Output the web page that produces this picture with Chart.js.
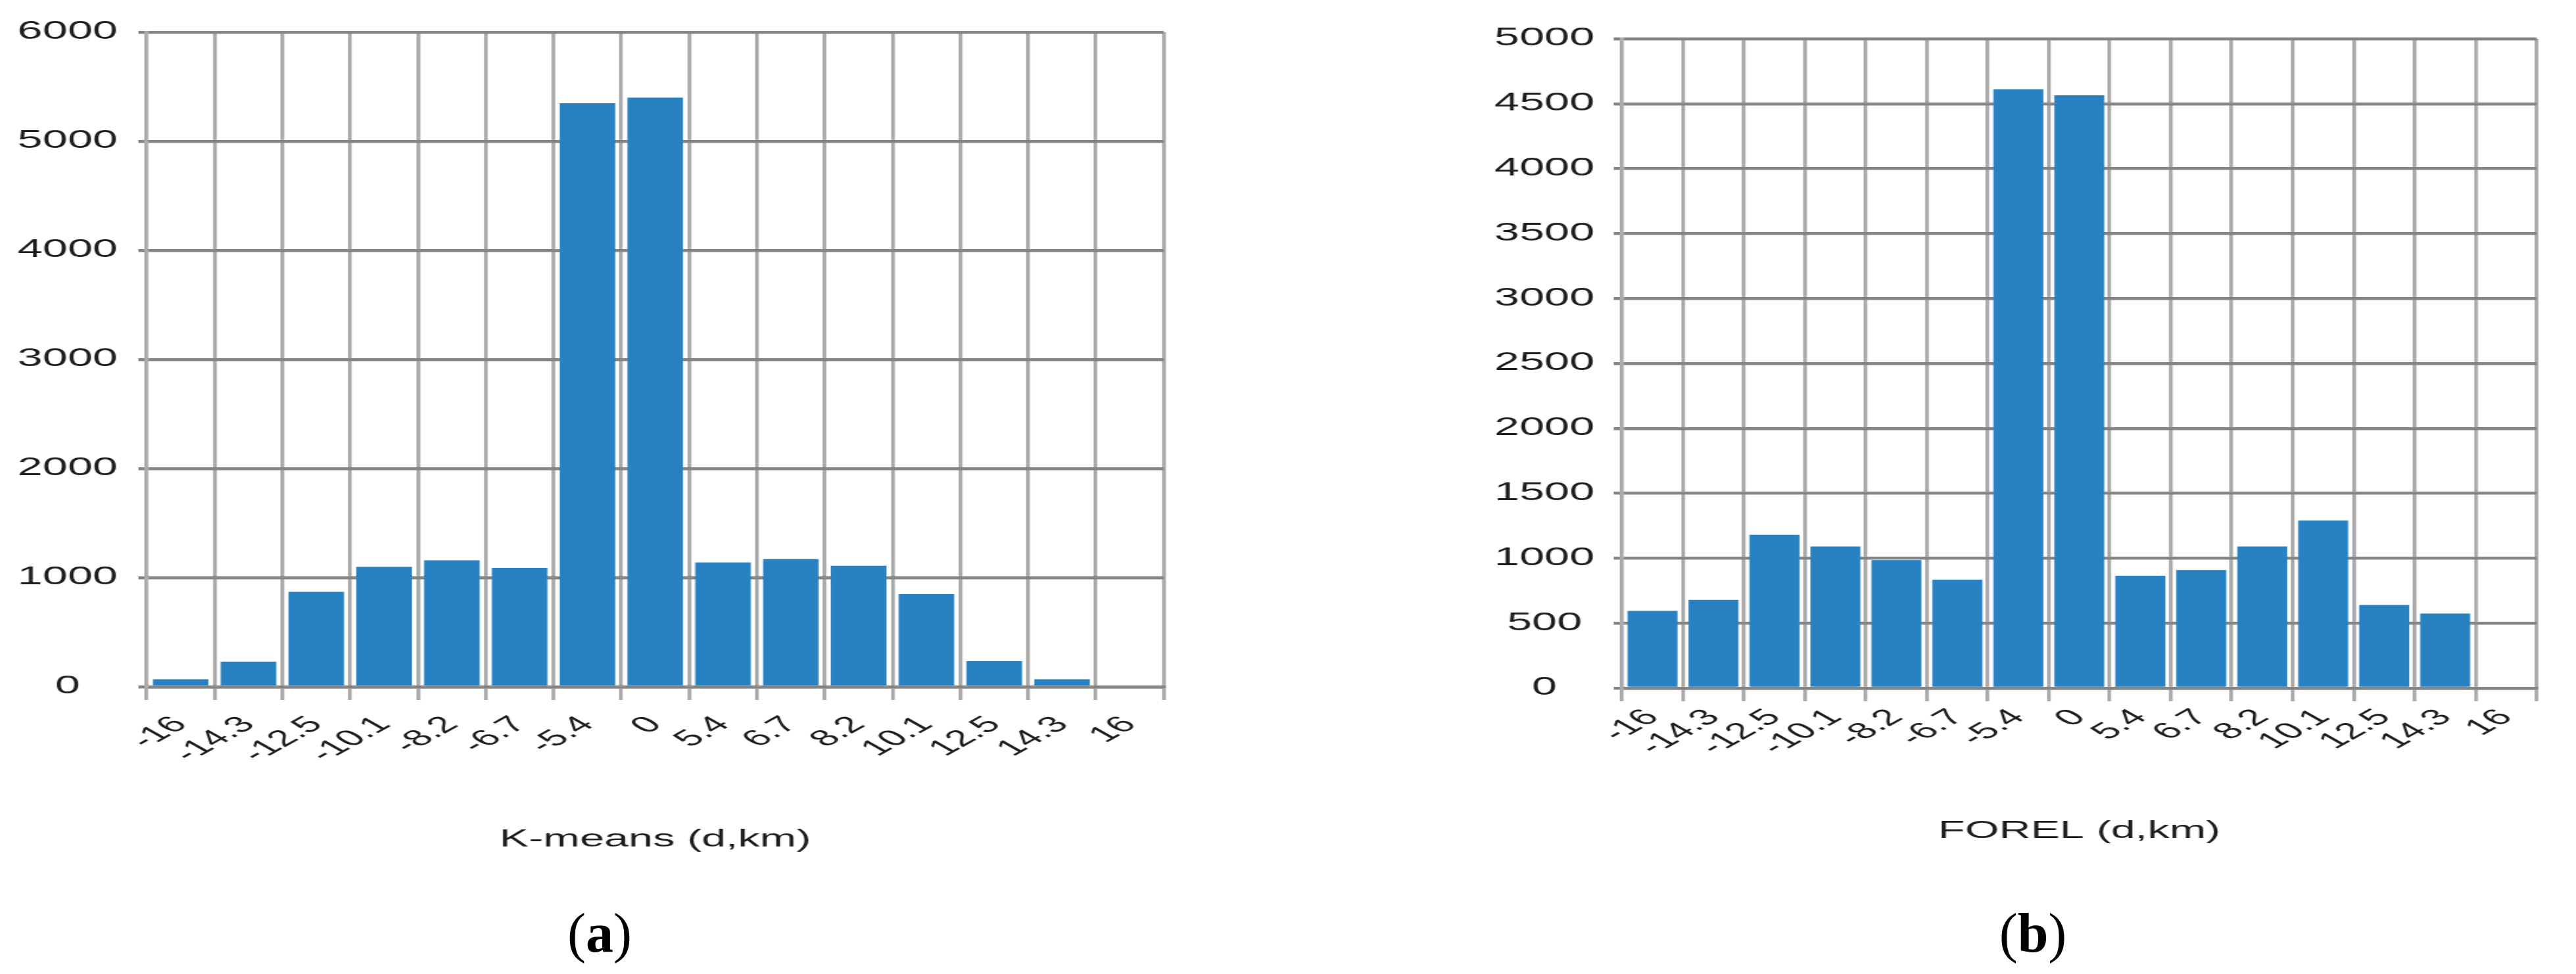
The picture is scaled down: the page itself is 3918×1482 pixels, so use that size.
<!DOCTYPE html>
<html><head><meta charset="utf-8">
<script src="https://cdn.jsdelivr.net/npm/chart.js@4.4.1/dist/chart.umd.min.js"></script>
<style>
html,body{margin:0;padding:0;background:#fff;width:3918px;height:1482px;overflow:hidden;position:relative}
canvas{position:absolute}
.cap{position:absolute;font-family:'Liberation Serif','Times New Roman',serif;font-size:84px;color:#000;line-height:1;transform:translateX(-50%);white-space:nowrap}
.cap b{font-weight:bold}
</style></head><body>
<canvas id="c1" width="1025" height="1330" style="left:0px;top:0px;width:1845px;height:1330px"></canvas>
<canvas id="c2" width="1040" height="1330" style="left:2046px;top:0px;width:1872px;height:1330px"></canvas>
<div class="cap" style="left:912px;top:1378px">(<b>a</b>)</div>
<div class="cap" style="left:3092px;top:1378px">(<b>b</b>)</div>
<script>
// Shared distance bins (d, km)
const categories = ['-16','-14.3','-12.5','-10.1','-8.2','-6.7','-5.4','0','5.4','6.7','8.2','10.1','12.5','14.3','16'];
// (a) K-means counts
const kmeansCounts = [70, 230, 870, 1100, 1160, 1090, 5350, 5400, 1140, 1170, 1110, 850, 235, 70, 0];
// (b) FOREL counts
const forelCounts = [595, 680, 1180, 1090, 985, 835, 4610, 4565, 865, 910, 1090, 1290, 640, 575, 0];
// y-axis tick labels
const kmeansYTicks = [0, 1000, 2000, 3000, 4000, 5000, 6000];
const forelYTicks = [0, 500, 1000, 1500, 2000, 2500, 3000, 3500, 4000, 4500, 5000];
// axis titles
const kmeansTitle = 'K-means (d,km)';
const forelTitle = 'FOREL (d,km)';

const FONT = "'Liberation Sans', Arial, sans-serif";

function makeChart(id, values, yTicks, title, o) {
  new Chart(document.getElementById(id), {
    type: 'bar',
    data: {
      labels: categories,
      datasets: [{
        data: values,
        backgroundColor: '#2882c2',
        borderWidth: 0,
        barPercentage: 0.82,
        categoryPercentage: 1.0
      }]
    },
    options: {
      responsive: false,
      devicePixelRatio: 1,
      animation: false,
      layout: { padding: { top: o.top, right: o.right, left: 0, bottom: 0 } },
      plugins: { legend: { display: false }, tooltip: { enabled: false } },
      scales: {
        x: {
          offset: true,
          grid: { offset: true, color: '#ababab', lineWidth: 3.2, tickLength: o.xTick },
          border: { color: '#858585', width: 4.5 },
          ticks: {
            autoSkip: false, maxRotation: 45, minRotation: 45,
            padding: o.xPad, color: '#1e1e1e',
            font: { family: FONT, size: 35 }
          },
          title: {
            display: true, text: title, color: '#1e1e1e',
            font: { family: FONT, size: 37 },
            padding: { top: 0, bottom: o.titlePad }
          },
          afterFit: s => { s.height = o.xHeight; }
        },
        y: {
          min: yTicks[0],
          max: yTicks[yTicks.length - 1],
          afterBuildTicks: s => { s.ticks = yTicks.map(v => ({ value: v })); },
          ticks: {
            callback: v => String(v),
            crossAlign: 'center',
            padding: o.yPad,
            color: '#1e1e1e',
            font: { family: FONT, size: 38 }
          },
          grid: { color: '#858585', lineWidth: 4.5, tickLength: 7 },
          border: { color: '#ababab', width: 3.2 },
          afterFit: s => { s.width = o.yWidth; }
        }
      }
    }
  });
}

makeChart('c1', kmeansCounts, kmeansYTicks, kmeansTitle,
  { top: 49, right: 41.7, yWidth: 124, yPad: 17.6, xHeight: 285, xTick: 20, xPad: 17, titlePad: 29.8 });
makeChart('c2', forelCounts, forelYTicks, forelTitle,
  { top: 59, right: 33.3, yWidth: 233.9, yPad: 16.3, xHeight: 283, xTick: 20, xPad: 4, titlePad: 42.8 });
</script>
</body></html>
